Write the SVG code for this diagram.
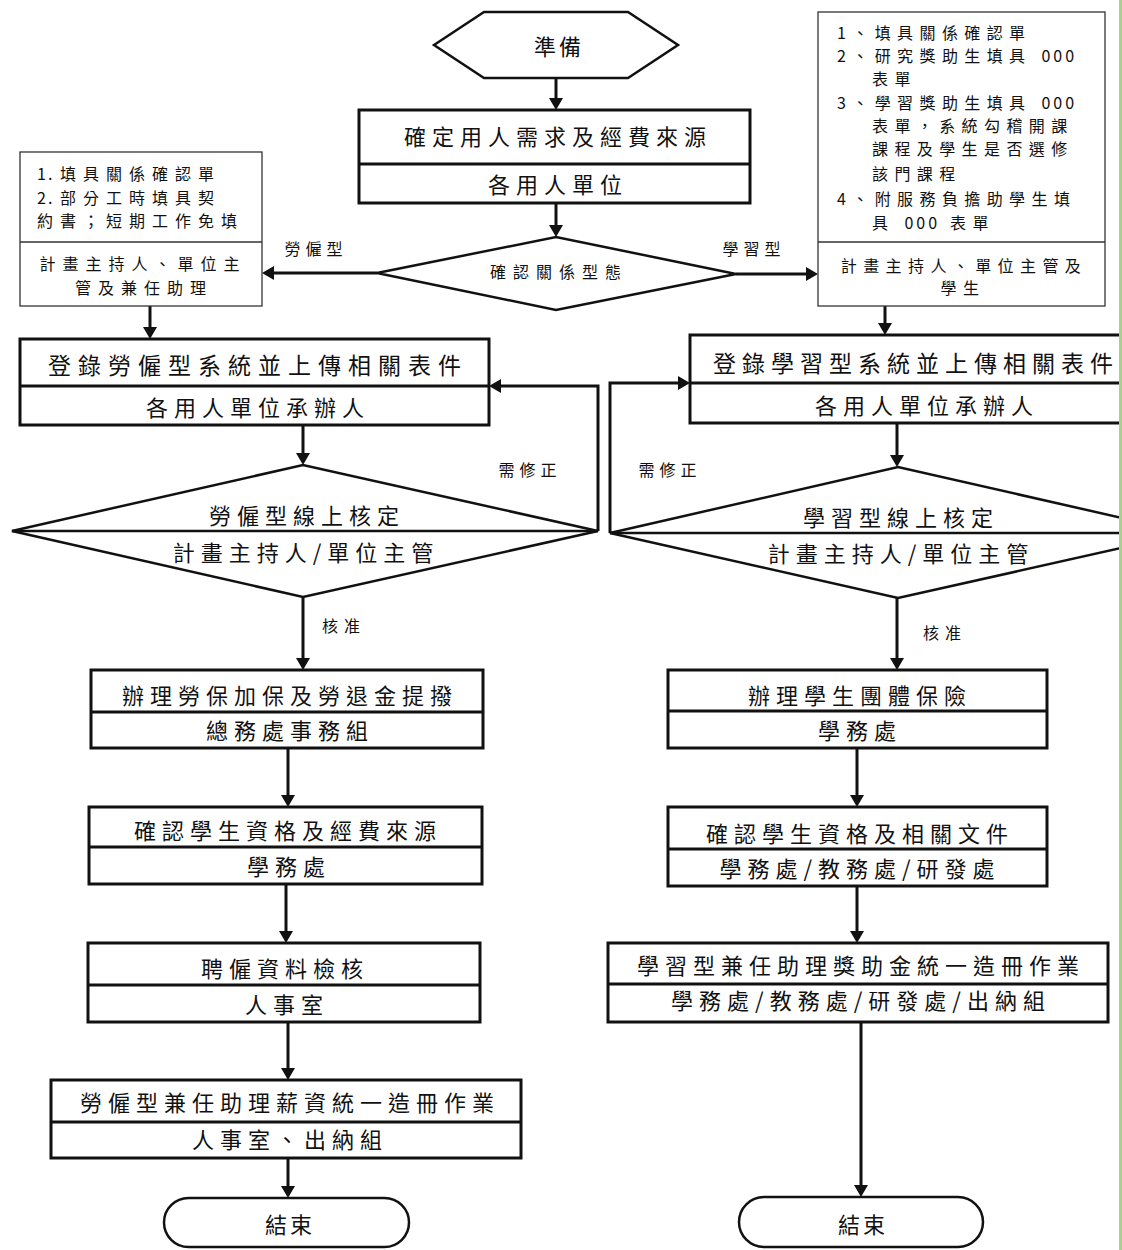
<svg xmlns="http://www.w3.org/2000/svg" width="1122" height="1250" viewBox="0 0 1122 1250">
<style>
text{font-family:"Noto Sans CJK TC","Noto Sans CJK SC",sans-serif;fill:#111;dominant-baseline:central}
.t{font-size:22px;letter-spacing:6px;text-anchor:middle}
.tb{font-size:23px;letter-spacing:7px;text-anchor:middle}
.n{font-size:16px;letter-spacing:7px}
.nr{font-size:16px;letter-spacing:6.4px}
.c{text-anchor:middle}
.l{font-size:16px;letter-spacing:5px;text-anchor:middle}
.box{fill:#fff;stroke:#111;stroke-width:3}
.div{stroke:#111;stroke-width:3}
.note{fill:#fff;stroke:#333;stroke-width:1.3}
.ndiv{stroke:#333;stroke-width:1.3}
.con{fill:none;stroke:#111;stroke-width:3}
.shape{fill:#fff;stroke:#111;stroke-width:2.5}
</style>
<defs>
<marker id="arr" viewBox="0 0 12 14" refX="6" refY="7" markerWidth="12" markerHeight="14" markerUnits="userSpaceOnUse" orient="auto">
<path d="M0,0 L12,7 L0,14 z" fill="#111"/>
</marker>
</defs>
<rect width="1122" height="1250" fill="#fff"/>

<g id="connectors">
<line class="con" x1="556" y1="78" x2="556" y2="104" marker-end="url(#arr)"/>
<line class="con" x1="556" y1="203" x2="556" y2="231" marker-end="url(#arr)"/>
<line class="con" x1="377" y1="273" x2="268" y2="273" marker-end="url(#arr)"/>
<line class="con" x1="736" y1="274" x2="812" y2="274" marker-end="url(#arr)"/>
<line class="con" x1="150" y1="306" x2="150" y2="333" marker-end="url(#arr)"/>
<line class="con" x1="885" y1="306" x2="885" y2="329" marker-end="url(#arr)"/>
<line class="con" x1="303" y1="425" x2="303" y2="459" marker-end="url(#arr)"/>
<line class="con" x1="897" y1="423" x2="897" y2="461" marker-end="url(#arr)"/>
<polyline class="con" points="598,531 598,386 495,386" marker-end="url(#arr)"/>
<polyline class="con" points="610,533 610,383 684,383" marker-end="url(#arr)"/>
<line class="con" x1="303" y1="597" x2="303" y2="664" marker-end="url(#arr)"/>
<line class="con" x1="897" y1="598" x2="897" y2="664" marker-end="url(#arr)"/>
<line class="con" x1="288" y1="748" x2="288" y2="801" marker-end="url(#arr)"/>
<line class="con" x1="857" y1="748" x2="857" y2="801" marker-end="url(#arr)"/>
<line class="con" x1="286" y1="884" x2="286" y2="937" marker-end="url(#arr)"/>
<line class="con" x1="857" y1="886" x2="857" y2="937" marker-end="url(#arr)"/>
<line class="con" x1="288" y1="1022" x2="288" y2="1074" marker-end="url(#arr)"/>
<line class="con" x1="288" y1="1158" x2="288" y2="1192" marker-end="url(#arr)"/>
<line class="con" x1="861" y1="1022" x2="861" y2="1191" marker-end="url(#arr)"/>
<text class="l" x="316" y="248">勞僱型</text>
<text class="l" x="754" y="248">學習型</text>
<text class="l" x="530" y="469">需修正</text>
<text class="l" x="670" y="469">需修正</text>
<text class="l" x="344" y="625" style="letter-spacing:6px">核准</text>
<text class="l" x="945" y="632" style="letter-spacing:6px">核准</text>
</g>

<g id="start">
<polygon class="shape" points="434,45 484,12 628,12 678,45 628,78 484,78"/>
<text class="t" x="559" y="45" style="letter-spacing:3px">準備</text>
</g>

<g id="need">
<rect class="box" x="359" y="110" width="391" height="93"/>
<line class="div" x1="359" y1="164" x2="750" y2="164"/>
<text class="t" x="558" y="135">確定用人需求及經費來源</text>
<text class="t" x="558" y="183">各用人單位</text>
</g>

<g id="relation">
<polygon class="shape" points="377,273 556,237 736,274 556,310"/>
<text class="l" x="559" y="271" style="letter-spacing:7px">確認關係型態</text>
</g>

<g id="note-labor">
<rect class="note" x="20" y="152" width="242" height="154"/>
<line class="ndiv" x1="20" y1="242" x2="262" y2="242"/>
<text class="n" x="37" y="173"><tspan style="letter-spacing:2px">1. </tspan>填具關係確認單</text>
<text class="n" x="37" y="197"><tspan style="letter-spacing:2px">2. </tspan>部分工時填具契</text>
<text class="n" x="37" y="220">約書；短期工作免填</text>
<text class="n c" x="143" y="263">計畫主持人、單位主</text>
<text class="n c" x="144" y="287">管及兼任助理</text>
</g>

<g id="note-learn">
<rect class="note" x="818" y="12" width="287" height="294"/>
<line class="ndiv" x1="818" y1="242" x2="1105" y2="242"/>
<text class="nr" x="837" y="32">1、填具關係確認單</text>
<text class="nr" x="837" y="55">2、研究獎助生填具 <tspan style="letter-spacing:3px">000</tspan></text>
<text class="nr" x="872" y="78">表單</text>
<text class="nr" x="837" y="102">3、學習獎助生填具 <tspan style="letter-spacing:3px">000</tspan></text>
<text class="nr" x="872" y="125">表單，系統勾稽開課</text>
<text class="nr" x="872" y="148">課程及學生是否選修</text>
<text class="nr" x="872" y="173">該門課程</text>
<text class="nr" x="837" y="198">4、附服務負擔助學生填</text>
<text class="nr" x="872" y="222">具 <tspan style="letter-spacing:3px">000</tspan> 表單</text>
<text class="nr c" x="964" y="265">計畫主持人、單位主管及</text>
<text class="nr c" x="963" y="287">學生</text>
</g>

<g id="reg-labor">
<rect class="box" x="20" y="339" width="469" height="86"/>
<line class="div" x1="20" y1="386" x2="489" y2="386"/>
<text class="tb" x="258" y="364">登錄勞僱型系統並上傳相關表件</text>
<text class="t" x="258" y="406">各用人單位承辦人</text>
</g>

<g id="reg-learn">
<rect class="box" x="690" y="335" width="460" height="88"/>
<line class="div" x1="690" y1="383" x2="1150" y2="383"/>
<text class="tb" x="916" y="362" style="letter-spacing:6px">登錄學習型系統並上傳相關表件</text>
<text class="t" x="927" y="404">各用人單位承辦人</text>
</g>

<g id="approve-labor">
<polygon class="shape" points="12,531 303,465 598,531 303,597"/>
<line class="shape" x1="12" y1="531" x2="598" y2="531"/>
<text class="t" x="307" y="514">勞僱型線上核定</text>
<text class="t" x="306" y="551">計畫主持人/單位主管</text>
</g>

<g id="approve-learn">
<polygon class="shape" points="610,533 898,467 1188,533 898,598"/>
<line class="shape" x1="610" y1="533" x2="1188" y2="533"/>
<text class="t" x="901" y="516">學習型線上核定</text>
<text class="t" x="901" y="552">計畫主持人/單位主管</text>
</g>

<g id="insure-labor">
<rect class="box" x="91" y="670" width="392" height="78"/>
<line class="div" x1="91" y1="712" x2="483" y2="712"/>
<text class="t" x="290" y="694">辦理勞保加保及勞退金提撥</text>
<text class="t" x="290" y="729">總務處事務組</text>
</g>

<g id="insure-learn">
<rect class="box" x="668" y="670" width="379" height="78"/>
<line class="div" x1="668" y1="711" x2="1047" y2="711"/>
<text class="t" x="860" y="694">辦理學生團體保險</text>
<text class="t" x="860" y="729">學務處</text>
</g>

<g id="check-labor">
<rect class="box" x="89" y="807" width="393" height="77"/>
<line class="div" x1="89" y1="847" x2="482" y2="847"/>
<text class="t" x="288" y="829">確認學生資格及經費來源</text>
<text class="t" x="289" y="865">學務處</text>
</g>

<g id="check-learn">
<rect class="box" x="668" y="807" width="379" height="79"/>
<line class="div" x1="668" y1="849" x2="1047" y2="849"/>
<text class="t" x="860" y="832">確認學生資格及相關文件</text>
<text class="t" x="860" y="867">學務處/教務處/研發處</text>
</g>

<g id="hire-check">
<rect class="box" x="88" y="943" width="392" height="79"/>
<line class="div" x1="88" y1="985" x2="480" y2="985"/>
<text class="t" x="285" y="967">聘僱資料檢核</text>
<text class="t" x="287" y="1003">人事室</text>
</g>

<g id="payroll-labor">
<rect class="box" x="51" y="1080" width="470" height="78"/>
<line class="div" x1="51" y1="1122" x2="521" y2="1122"/>
<text class="t" x="290" y="1101">勞僱型兼任助理薪資統一造冊作業</text>
<text class="t" x="290" y="1138">人事室、出納組</text>
</g>

<g id="payroll-learn">
<rect class="box" x="608" y="943" width="500" height="79"/>
<line class="div" x1="608" y1="984" x2="1108" y2="984"/>
<text class="t" x="861" y="964">學習型兼任助理獎助金統一造冊作業</text>
<text class="t" x="861" y="999">學務處/教務處/研發處/出納組</text>
</g>

<g id="end-labor">
<rect class="shape" x="164" y="1198" width="245" height="49" rx="24.5"/>
<text class="t" x="290" y="1223" style="letter-spacing:3px">結束</text>
</g>

<g id="end-learn">
<rect class="shape" x="739" y="1197" width="244" height="50" rx="25"/>
<text class="t" x="863" y="1223" style="letter-spacing:3px">結束</text>
</g>

<rect x="1119" y="0" width="3" height="1250" fill="#a9d18e"/>
</svg>
